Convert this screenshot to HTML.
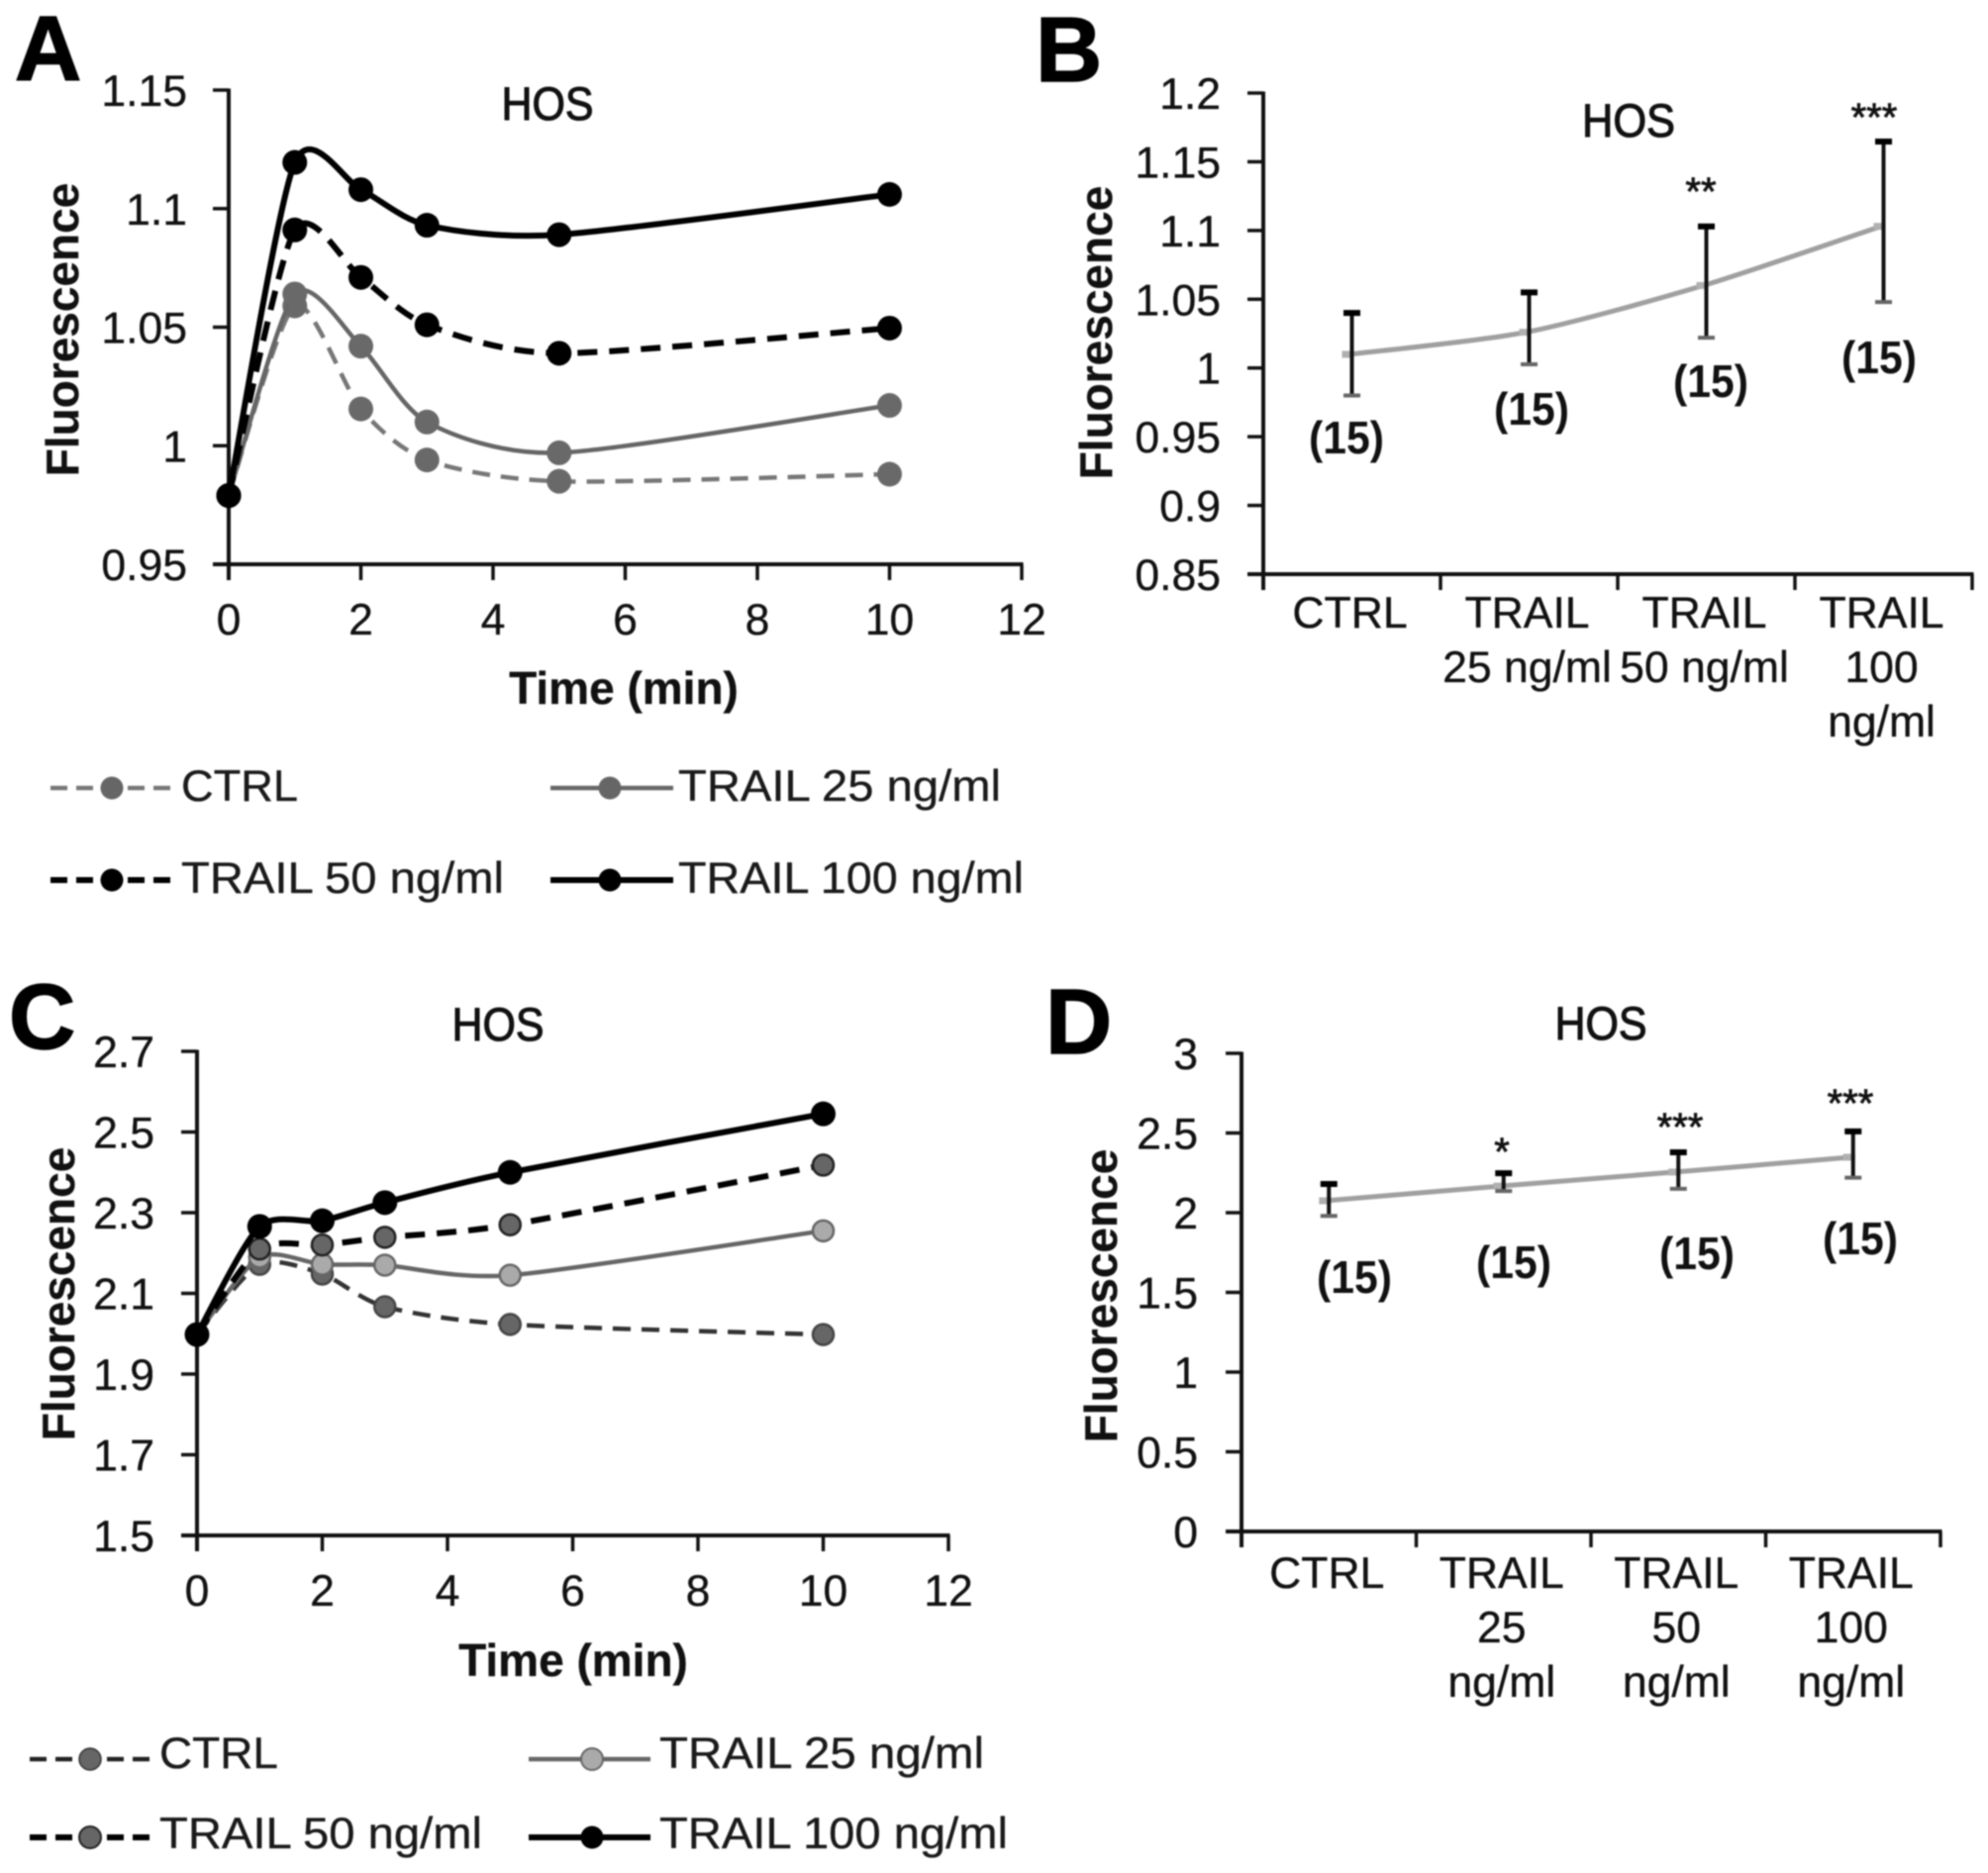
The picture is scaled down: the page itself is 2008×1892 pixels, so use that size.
<!DOCTYPE html>
<html lang="en">
<head>
<meta charset="utf-8">
<title>HOS fluorescence panels</title>
<style>
html,body{margin:0;padding:0;background:#fff;width:2008px;height:1892px;overflow:hidden}
svg{display:block;filter:blur(0.7px)}
text{font-family:"Liberation Sans",Arial,sans-serif;fill:#111}
.tick{font-size:44.5px;stroke:#111;stroke-width:.35px}
.lg{font-size:44.5px;fill:#1a1a1a;stroke:#1a1a1a;stroke-width:.35px}
.ttl{font-size:47px;stroke:#111;stroke-width:1.1px}
.ax{font-size:46px;font-weight:bold;stroke:#111;stroke-width:.3px}
.ltr{font-size:93px;font-weight:bold;fill:#000;stroke:#000;stroke-width:1.5px}
.n{font-size:46px;font-weight:bold}
.sig{font-size:40px;stroke:#111;stroke-width:.8px}
</style>
</head>
<body>
<svg id="figure" xmlns="http://www.w3.org/2000/svg" width="2008" height="1892" viewBox="0 0 2008 1892">
  <rect width="2008" height="1892" fill="#fff"/>

  <text class="ltr" x="15" y="81">A</text>
  <text class="ltr" x="1046" y="82">B</text>
  <text class="ltr" x="9" y="1059">C</text>
  <text class="ltr" x="1056" y="1064">D</text>

  <text class="ttl" x="553" y="121" text-anchor="middle" textLength="93" lengthAdjust="spacingAndGlyphs">HOS</text>
  <text class="ttl" x="1645" y="138" text-anchor="middle" textLength="94" lengthAdjust="spacingAndGlyphs">HOS</text>
  <text class="ttl" x="503" y="1051" text-anchor="middle" textLength="93" lengthAdjust="spacingAndGlyphs">HOS</text>
  <text class="ttl" x="1617" y="1050" text-anchor="middle" textLength="93" lengthAdjust="spacingAndGlyphs">HOS</text>

  <text class="ax" transform="rotate(-90 79 333)" x="79" y="333" text-anchor="middle">Fluorescence</text>
  <text class="ax" transform="rotate(-90 1123 336)" x="1123" y="336" text-anchor="middle">Fluorescence</text>
  <text class="ax" transform="rotate(-90 75 1307)" x="75" y="1307" text-anchor="middle">Fluorescence</text>
  <text class="ax" transform="rotate(-90 1128 1309)" x="1128" y="1309" text-anchor="middle">Fluorescence</text>
  <text class="ax" x="630" y="711" text-anchor="middle">Time (min)</text>
  <text class="ax" x="579" y="1693" text-anchor="middle">Time (min)</text>

  <g id="panel-a"></g>
  <g id="panel-b"></g>
  <g id="panel-c"></g>
  <g id="panel-d"></g>

  <!-- Panel A legend -->
  <g>
    <g>
      <line x1="51" y1="796" x2="179" y2="796" stroke="#777" stroke-width="4.5" stroke-dasharray="17 9"/>
      <circle cx="113" cy="796" r="11.5" fill="#666"/>
      <text class="lg" x="183" y="809" textLength="118" lengthAdjust="spacingAndGlyphs">CTRL</text>
    </g>
    <g>
      <line x1="556" y1="796" x2="680" y2="796" stroke="#666" stroke-width="4.5"/>
      <circle cx="616" cy="796" r="11.5" fill="#666"/>
      <text class="lg" x="685" y="809" textLength="326" lengthAdjust="spacingAndGlyphs">TRAIL 25 ng/ml</text>
    </g>
    <g>
      <line x1="51" y1="889" x2="179" y2="889" stroke="#000" stroke-width="6" stroke-dasharray="17 9"/>
      <circle cx="113" cy="889" r="11.5" fill="#000"/>
      <text class="lg" x="183" y="902" textLength="326" lengthAdjust="spacingAndGlyphs">TRAIL 50 ng/ml</text>
    </g>
    <g>
      <line x1="556" y1="889" x2="680" y2="889" stroke="#000" stroke-width="6"/>
      <circle cx="616" cy="889" r="11.5" fill="#000"/>
      <text class="lg" x="685" y="902" textLength="349" lengthAdjust="spacingAndGlyphs">TRAIL 100 ng/ml</text>
    </g>
  </g>

  <!-- Panel C legend -->
  <g>
    <g>
      <line x1="30" y1="1777" x2="155" y2="1777" stroke="#222" stroke-width="4.5" stroke-dasharray="17 9"/>
      <circle cx="91" cy="1777" r="11" fill="#666" stroke="#333" stroke-width="1.5"/>
      <text class="lg" x="161" y="1786" textLength="120" lengthAdjust="spacingAndGlyphs">CTRL</text>
    </g>
    <g>
      <line x1="534" y1="1777" x2="657" y2="1777" stroke="#666" stroke-width="4.5"/>
      <circle cx="598" cy="1777" r="11" fill="#aaa" stroke="#666" stroke-width="2"/>
      <text class="lg" x="666" y="1786" textLength="328" lengthAdjust="spacingAndGlyphs">TRAIL 25 ng/ml</text>
    </g>
    <g>
      <line x1="30" y1="1856" x2="155" y2="1856" stroke="#000" stroke-width="6" stroke-dasharray="17 9"/>
      <circle cx="91" cy="1856" r="11" fill="#666" stroke="#222" stroke-width="2"/>
      <text class="lg" x="161" y="1867" textLength="326" lengthAdjust="spacingAndGlyphs">TRAIL 50 ng/ml</text>
    </g>
    <g>
      <line x1="534" y1="1856" x2="657" y2="1856" stroke="#000" stroke-width="6"/>
      <circle cx="598" cy="1856" r="11.5" fill="#000"/>
      <text class="lg" x="666" y="1867" textLength="352" lengthAdjust="spacingAndGlyphs">TRAIL 100 ng/ml</text>
    </g>
  </g>

  <!-- Panel B annotations -->
  <text class="n" x="1360" y="458" text-anchor="middle" textLength="76" lengthAdjust="spacingAndGlyphs">(15)</text>
  <text class="n" x="1547" y="429" text-anchor="middle" textLength="76" lengthAdjust="spacingAndGlyphs">(15)</text>
  <text class="n" x="1728" y="401" text-anchor="middle" textLength="76" lengthAdjust="spacingAndGlyphs">(15)</text>
  <text class="n" x="1898" y="377" text-anchor="middle" textLength="76" lengthAdjust="spacingAndGlyphs">(15)</text>
  <text class="sig" x="1718" y="207" text-anchor="middle">**</text>
  <text class="sig" x="1893" y="132" text-anchor="middle">***</text>

  <!-- Panel D annotations -->
  <text class="n" x="1368" y="1306" text-anchor="middle" textLength="76" lengthAdjust="spacingAndGlyphs">(15)</text>
  <text class="n" x="1529" y="1291" text-anchor="middle" textLength="76" lengthAdjust="spacingAndGlyphs">(15)</text>
  <text class="n" x="1714" y="1282" text-anchor="middle" textLength="76" lengthAdjust="spacingAndGlyphs">(15)</text>
  <text class="n" x="1879" y="1267" text-anchor="middle" textLength="76" lengthAdjust="spacingAndGlyphs">(15)</text>
  <text class="sig" x="1517" y="1177" text-anchor="middle">*</text>
  <text class="sig" x="1697" y="1152" text-anchor="middle">***</text>
  <text class="sig" x="1869" y="1128" text-anchor="middle">***</text>
</svg>

<script>
// Panel A data
const timeA = [0, 1, 2, 3, 5, 10];
const ctrlA = [0.979, 1.059, 1.0155, 0.994, 0.985, 0.988];
const trail25A = [0.979, 1.064, 1.042, 1.010, 0.997, 1.017];
const trail50A = [0.979, 1.091, 1.071, 1.051, 1.039, 1.0496];
const trail100A = [0.979, 1.1195, 1.108, 1.093, 1.089, 1.106];
const xTicksA = ["0", "2", "4", "6", "8", "10", "12"];
const yTicksA = ["0.95", "1", "1.05", "1.1", "1.15"];

// Panel C data
const timeC = [0, 1, 2, 3, 5, 10];
const ctrlC = [1.998, 2.172, 2.148, 2.067, 2.023, 1.998];
const trail25C = [1.998, 2.19, 2.172, 2.17, 2.145, 2.255];
const trail50C = [1.998, 2.21, 2.22, 2.239, 2.27, 2.418];
const trail100C = [1.998, 2.266, 2.28, 2.325, 2.40, 2.545];
const xTicksC = ["0", "2", "4", "6", "8", "10", "12"];
const yTicksC = ["1.5", "1.7", "1.9", "2.1", "2.3", "2.5", "2.7"];

// Panel B data
const categoriesB = [["CTRL"], ["TRAIL", "25 ng/ml"], ["TRAIL", "50 ng/ml"], ["TRAIL", "100", "ng/ml"]];
const meanB = [1.0099, 1.026, 1.060, 1.103];
const upperB = [1.040, 1.055, 1.103, 1.1647];
const lowerB = [0.980, 1.0027, 1.022, 1.048];
const yTicksB = ["0.85", "0.9", "0.95", "1", "1.05", "1.1", "1.15", "1.2"];

// Panel D data
const categoriesD = [["CTRL"], ["TRAIL", "25", "ng/ml"], ["TRAIL", "50", "ng/ml"], ["TRAIL", "100", "ng/ml"]];
const meanD = [2.075, 2.167, 2.255, 2.348];
const upperD = [2.18, 2.248, 2.379, 2.51];
const lowerD = [1.98, 2.136, 2.15, 2.22];
const yTicksD = ["0", "0.5", "1", "1.5", "2", "2.5", "3"];

const SVG_NS = "http://www.w3.org/2000/svg";
const SMOOTH = 0.125;

function add(parent, tag, attrs, name, txt) {
  const el = document.createElementNS(SVG_NS, tag);
  for (const k in attrs) el.setAttribute(k, attrs[k]);
  
  
  if (txt !== undefined) el.textContent = txt;
  parent.appendChild(el);
  return el;
}

function linearScale(d0, d1, r0, r1) {
  return function (v) { return r0 + (v - d0) / (d1 - d0) * (r1 - r0); };
}

function smoothPath(pts) {
  let d = "M" + pts[0][0].toFixed(1) + " " + pts[0][1].toFixed(1);
  for (let i = 0; i < pts.length - 1; i++) {
    const p0 = pts[Math.max(i - 1, 0)], p1 = pts[i], p2 = pts[i + 1], p3 = pts[Math.min(i + 2, pts.length - 1)];
    const c1x = p1[0] + (p2[0] - p0[0]) * SMOOTH, c1y = p1[1] + (p2[1] - p0[1]) * SMOOTH;
    const c2x = p2[0] - (p3[0] - p1[0]) * SMOOTH, c2y = p2[1] - (p3[1] - p1[1]) * SMOOTH;
    d += "C" + c1x.toFixed(1) + " " + c1y.toFixed(1) + " " + c2x.toFixed(1) + " " + c2y.toFixed(1) + " " + p2[0].toFixed(1) + " " + p2[1].toFixed(1);
  }
  return d;
}

function drawYAxis(g, box, yScale, labels) {
  add(g, "line", {x1: box.left, y1: box.top - 1.5, x2: box.left, y2: box.bottom + 16, stroke: "#111", "stroke-width": 4}, "y-axis-line");
  labels.forEach(function (lab) {
    const y = yScale(Number(lab));
    add(g, "line", {x1: box.left - 16, y1: y, x2: box.left, y2: y, stroke: "#111", "stroke-width": 3.5}, "y-axis-tick");
    add(g, "text", {class: "tick", x: box.labelRight, y: y + 16, "text-anchor": "end"}, "y-tick-label", lab);
  });
}

function drawLinePanel(id, box, xDomain, yDomain, time, series, xLabels, yLabels) {
  const g = document.getElementById(id);
  const xs = linearScale(xDomain[0], xDomain[1], box.left, box.right);
  const ys = linearScale(yDomain[0], yDomain[1], box.bottom, box.top);
  drawYAxis(g, box, ys, yLabels);
  add(g, "line", {x1: box.left - 16, y1: box.bottom, x2: box.right + 1.5, y2: box.bottom, stroke: "#111", "stroke-width": 4}, "x-axis-line");
  xLabels.forEach(function (lab) {
    const x = xs(Number(lab));
    add(g, "line", {x1: x, y1: box.bottom, x2: x, y2: box.bottom + 16, stroke: "#111", "stroke-width": 3.5}, "x-axis-tick");
    add(g, "text", {class: "tick", x: x, y: box.bottom + 71, "text-anchor": "middle"}, "x-tick-label", lab);
  });
  series.forEach(function (s) {
    const pts = time.map(function (t, i) { return [xs(t), ys(s.values[i])]; });
    const attrs = {d: smoothPath(pts), fill: "none", stroke: s.stroke, "stroke-width": s.width, "stroke-linecap": "butt"};
    if (s.dash) attrs["stroke-dasharray"] = s.dash;
    add(g, "path", attrs, s.name + "-line");
    pts.forEach(function (p) {
      const m = {cx: p[0], cy: p[1], r: s.r, fill: s.fill};
      if (s.outline) { m.stroke = s.outline; m["stroke-width"] = 2.5; }
      add(g, "circle", m, s.name + "-point");
    });
  });
}

function drawBarPanel(id, box, yDomain, categories, mean, upper, lower, yLabels, lineH, firstOffset) {
  const g = document.getElementById(id);
  const n = categories.length;
  const band = (box.right - box.left) / n;
  const xs = function (i) { return box.left + band * (i + 0.5); };
  const ys = linearScale(yDomain[0], yDomain[1], box.bottom, box.top);
  drawYAxis(g, box, ys, yLabels);
  add(g, "line", {x1: box.left - 16, y1: box.bottom, x2: box.right + 1.5, y2: box.bottom, stroke: "#111", "stroke-width": 4}, "x-axis-line");
  for (let i = 0; i <= n; i++) {
    const x = box.left + band * i;
    add(g, "line", {x1: x, y1: box.bottom, x2: x, y2: box.bottom + 16, stroke: "#111", "stroke-width": 3.5}, "x-axis-tick");
  }
  categories.forEach(function (lines, i) {
    lines.forEach(function (t, k) {
      add(g, "text", {class: "tick", x: xs(i) - 2, y: box.bottom + firstOffset + k * lineH, "text-anchor": "middle"}, "category-label", t);
    });
  });
  const pts = mean.map(function (v, i) { return [xs(i) - 3, ys(v)]; });
  add(g, "path", {d: smoothPath(pts), fill: "none", stroke: "#a0a0a0", "stroke-width": 5}, "mean-line");
  pts.forEach(function (p) {
    add(g, "rect", {x: p[0] - 7, y: p[1] - 3.5, width: 12, height: 7, fill: "#b0b0b0"}, "mean-point");
  });
  mean.forEach(function (v, i) {
    const x = xs(i), yt = ys(upper[i]), yb = ys(lower[i]);
    add(g, "line", {x1: x, y1: yt, x2: x, y2: yb, stroke: "#111", "stroke-width": 4}, "error-bar-stem");
    add(g, "line", {x1: x - 8.5, y1: yt, x2: x + 8.5, y2: yt, stroke: "#000", "stroke-width": 6}, "error-bar-upper-cap");
    add(g, "line", {x1: x - 8.5, y1: yb, x2: x + 8.5, y2: yb, stroke: "#666", "stroke-width": 4}, "error-bar-lower-cap");
  });
}

drawLinePanel("panel-a", {left: 231, right: 1032, top: 91, bottom: 570, labelRight: 189}, [0, 12], [0.95, 1.15], timeA, [
  {name: "ctrl", values: ctrlA, stroke: "#777", width: 4.5, dash: "18 11", fill: "#696969", r: 12.5},
  {name: "trail-25", values: trail25A, stroke: "#666", width: 4.5, fill: "#696969", r: 12.5},
  {name: "trail-50", values: trail50A, stroke: "#000", width: 6, dash: "20 12", fill: "#000", r: 12.5},
  {name: "trail-100", values: trail100A, stroke: "#000", width: 6, fill: "#000", r: 12.5}
], xTicksA, yTicksA);

drawLinePanel("panel-c", {left: 199, right: 958, top: 1062, bottom: 1551, labelRight: 156}, [0, 12], [1.5, 2.7], timeC, [
  {name: "ctrl", values: ctrlC, stroke: "#333", width: 4.5, dash: "18 11", fill: "#666", outline: "#444", r: 10.5},
  {name: "trail-25", values: trail25C, stroke: "#666", width: 4.5, fill: "#aaa", outline: "#666", r: 10.5},
  {name: "trail-50", values: trail50C, stroke: "#000", width: 6, dash: "20 12", fill: "#666", outline: "#222", r: 10.5},
  {name: "trail-100", values: trail100C, stroke: "#000", width: 6, fill: "#000", r: 12.5}
], xTicksC, yTicksC);

drawBarPanel("panel-b", {left: 1276, right: 1992, top: 94, bottom: 580, labelRight: 1233}, [0.85, 1.2], categoriesB, meanB, upperB, lowerB, yTicksB, 55, 54);

drawBarPanel("panel-d", {left: 1254, right: 1960, top: 1064, bottom: 1547, labelRight: 1210}, [0, 3], categoriesD, meanD, upperD, lowerD, yTicksD, 55, 57);
</script>
</body>
</html>
